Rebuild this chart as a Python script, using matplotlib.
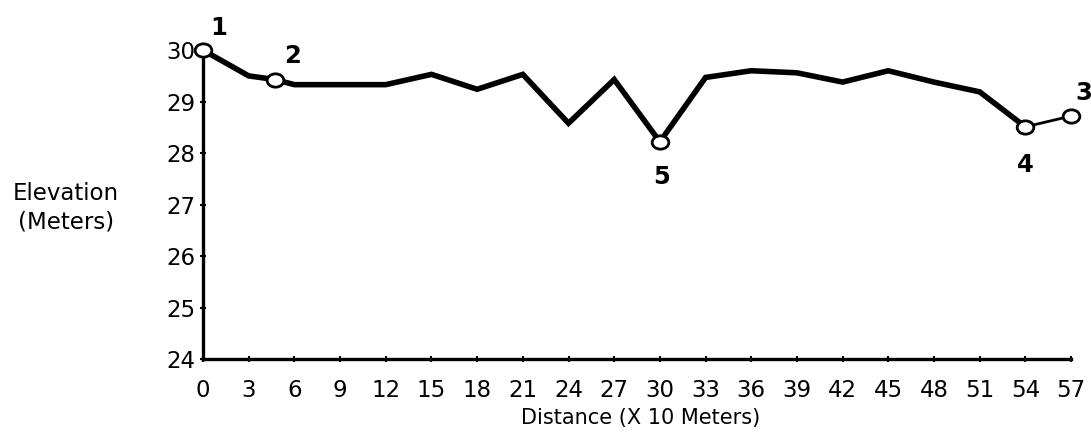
import matplotlib
matplotlib.use("Agg")
import matplotlib.pyplot as plt
from matplotlib.path import Path

plt.rcParams['font.family'] = ['DejaVu Sans']

# Elevation profile along the transect (distance in units of 10 m)
distance = [0, 3, 4.7, 6, 9, 12, 15, 18, 21, 24, 27, 30, 33, 36, 39, 42, 45, 48, 51, 54, 57]
elevation = [30.0, 29.50, 29.43, 29.33, 29.33, 29.33, 29.53, 29.24, 29.53, 28.58, 29.43,
             28.22, 29.47, 29.60, 29.56, 29.38, 29.60, 29.38, 29.19, 28.51, 28.72]

# Numbered sampling stations and where their numbers sit (pixel offsets)
station_labels = ["1", "2", "5", "4", "3"]
station_distance = [0, 4.7, 30, 54, 57]
station_elevation = [30.0, 29.43, 28.22, 28.51, 28.72]
station_offsets = [(16, 22), (18, 24), (2, -35), (0, -38), (13, 23)]

x_ticks = list(range(0, 58, 3))
y_ticks = [24, 25, 26, 27, 28, 29, 30]

# slightly flattened open circle for the station markers
_circ = Path.unit_circle()
station_marker = Path(_circ.vertices * [1.0, 0.8], _circ.codes)

fig = plt.figure(figsize=(10.91, 4.40), dpi=100)
ax = fig.add_axes([0.1861, 0.184, 0.7956, 0.702])

# main profile: heavy up to station 4, lighter on the last leg
ax.plot(distance[:-1], elevation[:-1], color='black', lw=4.0,
        solid_joinstyle='miter', zorder=2, clip_on=False)
ax.plot(distance[-2:], elevation[-2:], color='black', lw=2.0, zorder=2, clip_on=False)

ax.plot(station_distance, station_elevation, linestyle='none', marker=station_marker,
        markersize=12, markerfacecolor='white', markeredgecolor='black',
        markeredgewidth=2.0, zorder=3, clip_on=False)

for lab, xs, ys, off in zip(station_labels, station_distance, station_elevation, station_offsets):
    ax.annotate(lab, (xs, ys), xytext=off, textcoords='offset pixels',
                ha='center', va='center', fontsize=17.5, fontweight='bold')

ax.set_xlim(0, 57)
ax.set_ylim(24, 30)
ax.set_xticks(x_ticks)
ax.set_yticks(y_ticks)
ax.tick_params(direction='inout', length=5, width=1.5, labelsize=16.5)
ax.tick_params(axis='x', pad=12)
ax.tick_params(axis='y', pad=3)

for side in ['top', 'right']:
    ax.spines[side].set_visible(False)
for side in ['left', 'bottom']:
    ax.spines[side].set_linewidth(2.4)

ax.set_xlabel("Distance (X 10 Meters)", fontsize=15, va='center')
ax.xaxis.set_label_coords(0.504, -0.19)
fig.text(0.0605, 0.528, "Elevation\n(Meters)", ha='center', va='center',
         fontsize=16.5, linespacing=1.3)

fig.savefig("out.png", dpi=100)
